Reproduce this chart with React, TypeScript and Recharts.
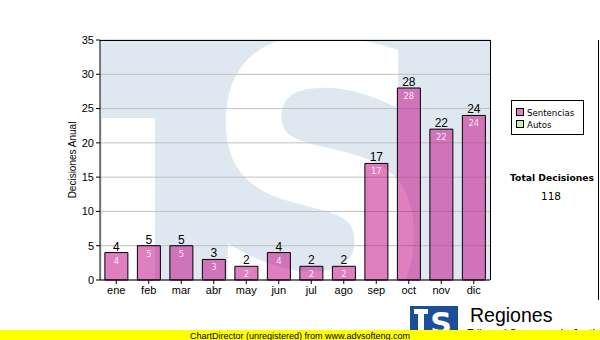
import React from 'react';
import { BarChart, Bar, XAxis, YAxis, CartesianGrid, LabelList } from 'recharts';

const months = ['ene', 'feb', 'mar', 'abr', 'may', 'jun', 'jul', 'ago', 'sep', 'oct', 'nov', 'dic'];
const sentencias = [4, 5, 5, 3, 2, 4, 2, 2, 17, 28, 22, 24];
const yTicks = [0, 5, 10, 15, 20, 25, 30, 35];
const legendItems = [
    { name: 'Sentencias', color: '#e080c0' },
    { name: 'Autos', color: '#cceea0' },
];
const totalLabel = 'Total Decisiones';

const data = months.map((m, i) => ({ month: m, sentencias: sentencias[i] }));
const total = sentencias.reduce((a, b) => a + b, 0);

const arial = 'Liberation Sans, Arial, sans-serif';
const verdana = 'DejaVu Sans, Verdana, sans-serif';

// plot area in pixels: x 100..490, y 40..280
const Watermark = () => (
    <svg width={600} height={340} style={{ position: 'absolute', left: 0, top: 0 }}>
        <defs>
            <clipPath id="plotClip">
                <rect x={100} y={40} width={390} height={240} />
            </clipPath>
        </defs>
        <g clipPath="url(#plotClip)">
            <rect x={100} y={40} width={390} height={240} fill="#dfe8f1" />
            <rect x={102} y={118} width={53} height={170} fill="#ffffff" />
            <text
                x={0}
                y={0}
                transform="translate(320 318) scale(0.86 1)"
                textAnchor="middle"
                fontFamily={verdana}
                fontWeight="bold"
                fontSize={380}
                fill="#ffffff"
            >
                S
            </text>
        </g>
    </svg>
);

const Overlay = () => (
    <svg width={600} height={340} style={{ position: 'absolute', left: 0, top: 0, pointerEvents: 'none' }}>
        {/* plot frame top / right */}
        <line x1={100} y1={40.5} x2={490.5} y2={40.5} stroke="#000" />
        <line x1={490.5} y1={40} x2={490.5} y2={280} stroke="#000" />
        <line x1={598.5} y1={40} x2={598.5} y2={300} stroke="#000" />

        {/* legend */}
        <rect x={511.5} y={100.5} width={72} height={34} fill="#fff" stroke="#000" />
        {legendItems.map((it, i) => (
            <g key={it.name}>
                <rect x={516.5} y={108.5 + i * 12} width={7} height={7} fill={it.color} stroke="#000" />
                <text x={527} y={116 + i * 12} fontFamily={verdana} fontSize={8.6} fill="#000">
                    {it.name}
                </text>
            </g>
        ))}

        <text x={552} y={181} textAnchor="middle" fontFamily={verdana} fontSize={9.2} fontWeight="bold" fill="#000">
            {totalLabel}
        </text>
        <text x={551} y={200} textAnchor="middle" fontFamily={verdana} fontSize={10.5} fill="#000">
            {total}
        </text>

        {/* logo */}
        <rect x={410} y={306} width={48} height={34} fill="#1b4f9b" />
        <text x={441} y={334} textAnchor="middle" fontFamily={verdana} fontWeight="bold" fontSize={30} fill="#fff">
            S
        </text>
        <rect x={414} y={309} width={14} height={5} fill="#fff" />
        <rect x={418} y={314} width={6} height={16} fill="#fff" />
        <text x={470} y={322} fontFamily={arial} fontSize={19.5} fill="#000">
            Regiones
        </text>
        <text x={467} y={337} fontFamily={arial} fontSize={11} fill="#000">
            Tribunal Supremo de Justicia
        </text>

        <rect x={0} y={330} width={600} height={10} fill="#ffff00" />
        <text x={300} y={338.5} textAnchor="middle" fontFamily={arial} fontSize={9} fill="#000">
            ChartDirector (unregistered) from www.advsofteng.com
        </text>
    </svg>
);

export default function App() {
    return (
        <div style={{ position: 'fixed', left: 0, top: 0, width: 600, height: 340, background: '#fff', overflow: 'hidden' }}>
            <Watermark />
            <div style={{ position: 'absolute', left: 0, top: 0 }}>
                <BarChart
                    width={600}
                    height={340}
                    data={data}
                    margin={{ top: 40, right: 110, left: 50, bottom: 30 }}
                    barCategoryGap="15%"
                >
                    <CartesianGrid vertical={false} stroke="#c0c0c0" />
                    <XAxis
                        dataKey="month"
                        axisLine={{ stroke: '#000' }}
                        tickLine={{ stroke: '#000' }}
                        tickSize={4}
                        tick={{ fill: '#000', fontSize: 11, fontFamily: arial }}
                        height={30}
                        interval={0}
                    />
                    <YAxis
                        domain={[0, 35]}
                        ticks={yTicks}
                        axisLine={{ stroke: '#000' }}
                        tickLine={{ stroke: '#000' }}
                        tickSize={4}
                        tick={{ fill: '#000', fontSize: 11, fontFamily: arial }}
                        width={50}
                        label={{
                            value: 'Decisiones Anual',
                            angle: -90,
                            position: 'insideLeft',
                            offset: 22,
                            style: { fontSize: 10, fontFamily: arial, fill: '#000', textAnchor: 'middle' },
                        }}
                    />
                    <Bar
                        dataKey="sentencias"
                        fill="#c10081"
                        fillOpacity={0.5}
                        stroke="#000"
                        strokeWidth={1}
                        isAnimationActive={false}
                    >
                        <LabelList
                            dataKey="sentencias"
                            position="top"
                            offset={2}
                            style={{ fontSize: 12, fontFamily: arial, fill: '#000' }}
                        />
                        <LabelList
                            dataKey="sentencias"
                            position="insideTop"
                            offset={5}
                            style={{ fontSize: 8.5, fontFamily: verdana, fill: '#ffffff', fillOpacity: 0.85 }}
                        />
                    </Bar>
                </BarChart>
            </div>
            <Overlay />
        </div>
    );
}
